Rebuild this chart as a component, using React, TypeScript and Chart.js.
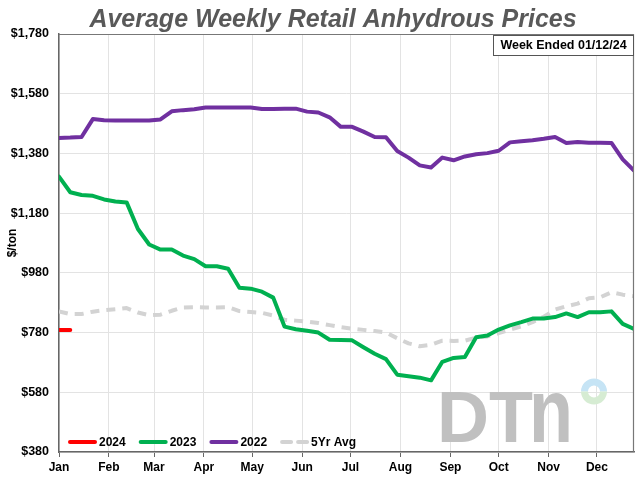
import React, { useEffect, useRef } from "react";
import { Chart, registerables } from "chart.js";

Chart.register(...registerables);

const TITLE = "Average Weekly Retail Anhydrous Prices";
const WEEK_NOTE = "Week Ended 01/12/24";
const Y_AXIS_TITLE = "$/ton";
const LOGO_TEXT = "DTn";

const MONTHS = ["Jan", "Feb", "Mar", "Apr", "May", "Jun", "Jul", "Aug", "Sep", "Oct", "Nov", "Dec"];
const MONTH_START_DAYS = [0, 31, 59, 90, 120, 151, 181, 212, 243, 273, 304, 334];
const Y_TICKS = [380, 580, 780, 980, 1180, 1380, 1580, 1780];

const SERIES_NAMES = ["2024", "2023", "2022", "5Yr Avg"];
const SERIES_COLORS = ["#ff0000", "#00b050", "#7030a0", "#d3d3d3"];

const V2024 = [789, 789];
const V2023 = [
  1302, 1250, 1241, 1238, 1226, 1219, 1216, 1127, 1075, 1058,
  1058, 1038, 1026, 1002, 1002, 994, 930, 927, 917, 897,
  800, 791, 786, 780, 756, 755, 754, 731, 709, 691,
  639, 634, 629, 620, 682, 695, 698, 764, 770, 790,
  804, 815, 827, 827, 832, 844, 832, 848, 848, 851,
  809, 792,
];
const V2022 = [
  1432, 1433, 1435, 1495, 1491, 1490, 1490, 1490, 1490, 1494,
  1521, 1525, 1528, 1534, 1534, 1534, 1534, 1534, 1529, 1529,
  1530, 1530, 1520, 1517, 1501, 1469, 1469, 1453, 1435, 1434,
  1388, 1366, 1340, 1333, 1366, 1357, 1370, 1377, 1381, 1389,
  1417, 1421, 1424, 1429, 1435, 1415, 1418, 1416, 1416, 1415,
  1360, 1323,
];
const V5YR = [
  851, 842, 842, 850, 855, 858, 862, 847, 838, 840,
  853, 864, 865, 864, 864, 865, 852, 849, 846, 837,
  823, 820, 817, 812, 805, 798, 793, 789, 785, 780,
  761, 744, 734, 739, 753, 752, 753, 763, 767, 778,
  790, 801, 815, 833, 857, 868, 877, 895, 898, 915,
  907, 902,
];

const X_MAX_DAY = 357;
const toPoints = (vals: number[]) => vals.map((v, i) => ({ x: i * 7, y: v }));

const FONT = "'Liberation Sans', Arial, sans-serif";

const decorPlugin = {
  id: "decor",
  beforeDatasetsDraw(chart: any) {
    const { ctx, chartArea } = chart;
    const { right, bottom } = chartArea;
    ctx.save();
    // DTN logo
    ctx.fillStyle = "#c0c0c0";
    ctx.font = `bold 72px ${FONT}`;
    ctx.textBaseline = "alphabetic";
    ctx.textAlign = "left";
    const baseX = right - 197;
    const baseY = bottom - 10;
    ctx.fillText(LOGO_TEXT.slice(0, 2), baseX, baseY);
    const w2 = ctx.measureText(LOGO_TEXT.slice(0, 2)).width;
    ctx.save();
    ctx.translate(baseX + w2 - 4, baseY);
    ctx.scale(1, 1.27);
    ctx.fillText(LOGO_TEXT.slice(2), 0, 0);
    ctx.restore();
    // ring
    const cx = right - 40;
    const cy = bottom - 60.5;
    ctx.lineWidth = 7;
    ctx.strokeStyle = "#c6e4f5";
    ctx.beginPath();
    ctx.arc(cx, cy, 9.5, Math.PI, 2 * Math.PI);
    ctx.stroke();
    ctx.strokeStyle = "#d6ecd3";
    ctx.beginPath();
    ctx.arc(cx, cy, 9.5, 0, Math.PI);
    ctx.stroke();
    ctx.restore();
  },
  afterDraw(chart: any) {
    const { ctx, chartArea } = chart;
    const { left, right, top, bottom } = chartArea;
    ctx.save();
    // title
    ctx.fillStyle = "#595959";
    ctx.font = `italic bold 25px ${FONT}`;
    ctx.textAlign = "center";
    ctx.textBaseline = "alphabetic";
    ctx.fillText(TITLE, 333, 27);

    // top & right border
    ctx.strokeStyle = "#777777";
    ctx.lineWidth = 1.2;
    ctx.beginPath();
    ctx.moveTo(left, top + 0.5);
    ctx.lineTo(right - 0.5, top + 0.5);
    ctx.lineTo(right - 0.5, bottom);
    ctx.stroke();

    // week note box
    const bw = 140;
    const bh = 20;
    const bx = right - 1 - bw;
    const by = top + 1;
    ctx.fillStyle = "#ffffff";
    ctx.fillRect(bx, by, bw, bh);
    ctx.strokeStyle = "#555555";
    ctx.lineWidth = 1;
    ctx.strokeRect(bx + 0.5, by + 0.5, bw, bh);
    ctx.fillStyle = "#000000";
    ctx.font = `bold 12.5px ${FONT}`;
    ctx.textAlign = "center";
    ctx.textBaseline = "middle";
    ctx.fillText(WEEK_NOTE, bx + bw / 2 + 0.5, by + bh / 2 + 1);

    // legend
    let x = left + 9;
    const ly = bottom - 10;
    ctx.font = `bold 12px ${FONT}`;
    ctx.textAlign = "left";
    ctx.textBaseline = "middle";
    SERIES_NAMES.forEach((name, i) => {
      ctx.strokeStyle = SERIES_COLORS[i];
      ctx.lineWidth = 4;
      ctx.lineCap = "round";
      ctx.setLineDash(i === 3 ? [9, 7] : []);
      ctx.beginPath();
      ctx.moveTo(x + 2, ly);
      ctx.lineTo(x + 27, ly);
      ctx.stroke();
      ctx.setLineDash([]);
      ctx.fillStyle = "#000000";
      ctx.fillText(name, x + 31, ly + 1);
      x += 31 + ctx.measureText(name).width + 13;
    });
    ctx.restore();
  },
};

export default function App() {
  const ref = useRef<HTMLCanvasElement>(null);
  useEffect(() => {
    document.body.style.margin = "0";
    if (!ref.current) return;
    const values = [V2024, V2023, V2022, V5YR];
    const chart = new Chart(ref.current, {
      type: "line",
      data: {
        datasets: SERIES_NAMES.map((name, i) => ({
          label: name,
          data: toPoints(values[i]),
          borderColor: SERIES_COLORS[i],
          backgroundColor: SERIES_COLORS[i],
          borderWidth: 4,
          borderDash: i === 3 ? [9, 7] : [],
          pointRadius: 0,
          tension: 0,
          fill: false,
          borderJoinStyle: "round" as const,
          borderCapStyle: (i === 3 ? "butt" : "round") as any,
        })),
      },
      options: {
        animation: false,
        responsive: false,
        devicePixelRatio: 1,
        layout: { padding: { top: 34, right: 6, left: 0, bottom: 0 } },
        plugins: {
          legend: { display: false },
          title: { display: false },
          tooltip: { enabled: false },
        },
        scales: {
          x: {
            type: "linear",
            min: 0,
            max: X_MAX_DAY,
            afterBuildTicks: (scale: any) => {
              scale.ticks = MONTH_START_DAYS.map((v) => ({ value: v }));
            },
            afterFit: (scale: any) => {
              scale.height = 28;
            },
            ticks: {
              autoSkip: false,
              maxRotation: 0,
              padding: 3,
              color: "#000000",
              font: { family: FONT, size: 12, weight: "bold" },
              callback: (value: any) => {
                const idx = MONTH_START_DAYS.indexOf(Number(value));
                return idx >= 0 ? MONTHS[idx] : "";
              },
            },
            grid: {
              color: "#e3e3e3",
              lineWidth: 1,
              tickLength: 5,
              tickColor: "#666666",
            },
            border: { color: "#666666", width: 1.5 },
          },
          y: {
            type: "linear",
            min: Y_TICKS[0],
            max: Y_TICKS[Y_TICKS.length - 1],
            afterBuildTicks: (scale: any) => {
              scale.ticks = Y_TICKS.map((v) => ({ value: v }));
            },
            afterFit: (scale: any) => {
              scale.width = 59;
            },
            ticks: {
              padding: 10,
              color: "#000000",
              font: { family: FONT, size: 12.5, weight: "bold" },
              callback: (value: any) => "$" + Number(value).toLocaleString("en-US"),
            },
            grid: { color: "#e3e3e3", lineWidth: 1, drawTicks: false },
            border: { color: "#666666", width: 1.5 },
            title: {
              display: true,
              text: Y_AXIS_TITLE,
              color: "#000000",
              padding: { top: 5, bottom: 0 },
              font: { family: FONT, size: 12, weight: "bold" },
            },
          },
        },
      },
      plugins: [decorPlugin],
    });
    return () => chart.destroy();
  }, []);
  return (
    <div style={{ width: 640, height: 480, background: "#ffffff" }}>
      <canvas ref={ref} width={640} height={480} />
    </div>
  );
}
